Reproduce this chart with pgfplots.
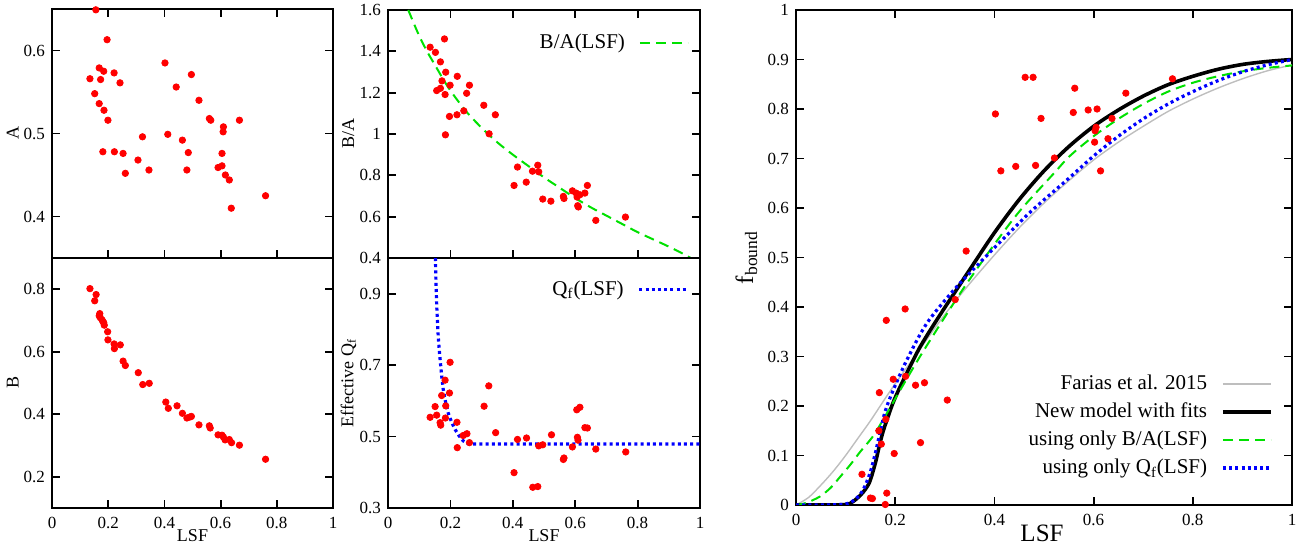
\documentclass[border=0pt]{standalone}
\usepackage{fontspec}
\setmainfont{Liberation Serif}
\usepackage{pgfplots}
\pgfplotsset{compat=1.18}

\definecolor{ptred}{RGB}{255,0,0}
\definecolor{fitgreen}{RGB}{0,225,0}
\definecolor{fitblue}{RGB}{0,0,255}
\definecolor{farias}{RGB}{190,190,190}

\pgfplotsset{
  myaxis/.style={
    scale only axis,
    anchor=south west,
    axis line style={line width=1.1pt},
    every tick/.style={line width=0.9pt, black},
    major tick length=4pt,
    tick align=inside,
    xmin=0, xmax=1,
    xtick={0,0.2,0.4,0.6,0.8,1},
    /pgf/number format/assume math mode=true,
    tick label style={font=\fontsize{8.5}{10}\selectfont},
    xticklabel style={yshift=-1pt},
    label style={font=\fontsize{9}{11}\selectfont},
    legend cell align=right,
    legend plot pos=right,
    legend style={draw=none, fill=none, font=\fontsize{10.5}{12}\selectfont,
      /tikz/every odd column/.append style={column sep=5pt}},
    legend image code/.code={\draw[##1] (0pt,0pt) -- (24pt,0pt);},
  },
  pts/.style={only marks, mark=*, mark size=1.6pt, color=ptred, forget plot},
  lsflabel/.style={xlabel={LSF}, xlabel style={at={(axis description cs:0.5,0)}, anchor=center, inner sep=0pt, yshift=-14pt}},
}

\begin{document}
\begin{tikzpicture}
\path[use as bounding box] (0,0) rectangle (652pt,272.5pt);

% ---------------- A panel ----------------
\begin{axis}[myaxis, at={(26pt,143.5pt)}, width=140.5pt, height=124.5pt,
  ymin=0.35, ymax=0.65, ytick={0.4,0.5,0.6}, xticklabels={},
  xtick pos=both, ytick pos=both,
  ylabel={A}, ylabel style={at={(axis description cs:-0.14,0.5)}, anchor=center}]
\addplot[pts] table[row sep=\\] {
x y\\
0.156 0.649\\ 0.196 0.613\\ 0.135 0.566\\ 0.168 0.579\\ 0.184 0.575\\
0.173 0.565\\ 0.221 0.573\\ 0.242 0.561\\ 0.152 0.548\\ 0.168 0.536\\
0.185 0.528\\ 0.199 0.516\\ 0.181 0.478\\ 0.222 0.478\\ 0.253 0.476\\
0.261 0.452\\ 0.306 0.468\\ 0.322 0.496\\ 0.345 0.456\\ 0.402 0.585\\
0.412 0.499\\ 0.442 0.556\\ 0.464 0.492\\ 0.496 0.571\\ 0.485 0.477\\
0.480 0.456\\ 0.523 0.540\\ 0.560 0.518\\ 0.565 0.516\\ 0.610 0.508\\
0.609 0.502\\ 0.667 0.516\\ 0.605 0.476\\ 0.591 0.459\\ 0.605 0.461\\
0.617 0.450\\ 0.631 0.444\\ 0.638 0.410\\ 0.760 0.425\\
};
\end{axis}

% ---------------- B panel ----------------
\begin{axis}[myaxis, at={(26pt,18.5pt)}, width=140.5pt, height=125pt,
  ymin=0.1, ymax=0.9, ytick={0.2,0.4,0.6,0.8},
  xtick pos=bottom, ytick pos=both, lsflabel,
  ylabel={B}, ylabel style={at={(axis description cs:-0.14,0.5)}, anchor=center}]
\addplot[pts] table[row sep=\\] {
x y\\
0.135 0.802\\ 0.157 0.783\\ 0.152 0.763\\ 0.170 0.722\\ 0.172 0.709\\
0.178 0.702\\ 0.184 0.693\\ 0.186 0.685\\ 0.168 0.715\\ 0.181 0.697\\
0.198 0.664\\ 0.199 0.638\\ 0.221 0.625\\ 0.243 0.622\\ 0.222 0.610\\
0.253 0.570\\ 0.261 0.556\\ 0.307 0.533\\ 0.323 0.495\\ 0.346 0.499\\
0.405 0.439\\ 0.414 0.419\\ 0.445 0.427\\ 0.464 0.403\\ 0.480 0.388\\
0.490 0.391\\ 0.496 0.393\\ 0.523 0.366\\ 0.560 0.363\\ 0.563 0.356\\
0.591 0.334\\ 0.605 0.333\\ 0.610 0.327\\ 0.616 0.318\\ 0.631 0.319\\
0.639 0.309\\ 0.667 0.301\\ 0.760 0.256\\
};
\end{axis}

% ---------------- B/A panel ----------------
\begin{axis}[myaxis, at={(194pt,143.5pt)}, width=156pt, height=124pt,
  ymin=0.4, ymax=1.6, ytick={0.4,0.6,0.8,1,1.2,1.4,1.6}, xticklabels={},
  xtick pos=both, ytick pos=both,
  ylabel={B/A}, ylabel style={at={(axis description cs:-0.127,0.5)}, anchor=center},
  legend style={at={(axis description cs:0.985,0.867)}, anchor=east}]
\addplot[pts] table[row sep=\\] {
x y\\
0.135 1.420\\ 0.152 1.395\\ 0.181 1.460\\ 0.168 1.349\\ 0.185 1.299\\
0.173 1.257\\ 0.156 1.210\\ 0.168 1.221\\ 0.183 1.191\\ 0.199 1.236\\
0.222 1.279\\ 0.261 1.236\\ 0.252 1.197\\ 0.197 1.085\\ 0.221 1.093\\
0.243 1.112\\ 0.184 0.996\\ 0.307 1.139\\ 0.344 1.093\\ 0.324 1.001\\
0.404 0.751\\ 0.415 0.840\\ 0.443 0.767\\ 0.463 0.820\\ 0.480 0.849\\
0.483 0.817\\ 0.496 0.685\\ 0.522 0.675\\ 0.562 0.698\\ 0.564 0.688\\
0.591 0.725\\ 0.603 0.714\\ 0.606 0.695\\ 0.615 0.706\\ 0.608 0.653\\
0.610 0.647\\ 0.631 0.714\\ 0.639 0.751\\ 0.666 0.582\\ 0.761 0.598\\
};
\addplot[fitgreen, line width=1pt, dash pattern=on 5pt off 3pt, smooth] table[row sep=\\] {
x y\\
0.065 1.600\\ 0.080 1.545\\ 0.100 1.475\\ 0.125 1.400\\ 0.150 1.335\\
0.175 1.270\\ 0.200 1.210\\ 0.250 1.110\\ 0.300 1.030\\ 0.350 0.960\\
0.400 0.900\\ 0.450 0.845\\ 0.500 0.790\\ 0.550 0.740\\ 0.600 0.690\\
0.650 0.645\\ 0.700 0.605\\ 0.750 0.565\\ 0.800 0.525\\ 0.850 0.490\\
0.900 0.455\\ 0.950 0.417\\ 0.970 0.400\\
};
\addlegendentry{B/A(LSF)}
\end{axis}

% ---------------- Qf panel ----------------
\begin{axis}[myaxis, at={(194pt,18.5pt)}, width=156pt, height=125pt,
  ymin=0.3, ymax=1.0, ytick={0.3,0.5,0.7,0.9},
  xtick pos=bottom, ytick pos=both, lsflabel,
  ylabel={Effective Q\textsubscript{f}}, ylabel style={at={(axis description cs:-0.127,0.5)}, anchor=center},
  legend style={at={(axis description cs:0.985,0.873)}, anchor=east}]
\addplot[pts] table[row sep=\\] {
x y\\
0.199 0.708\\ 0.183 0.658\\ 0.197 0.622\\ 0.172 0.615\\ 0.185 0.586\\
0.151 0.584\\ 0.135 0.554\\ 0.156 0.560\\ 0.167 0.539\\ 0.169 0.532\\
0.184 0.552\\ 0.221 0.540\\ 0.323 0.642\\ 0.308 0.585\\ 0.345 0.511\\
0.241 0.503\\ 0.253 0.508\\ 0.261 0.483\\ 0.222 0.469\\ 0.404 0.399\\
0.415 0.492\\ 0.444 0.496\\ 0.464 0.358\\ 0.480 0.360\\ 0.483 0.474\\
0.496 0.477\\ 0.524 0.505\\ 0.562 0.436\\ 0.564 0.440\\ 0.591 0.471\\
0.605 0.575\\ 0.615 0.582\\ 0.607 0.498\\ 0.609 0.490\\ 0.631 0.525\\
0.639 0.524\\ 0.666 0.465\\ 0.762 0.457\\
};
\addplot[fitblue, line width=1.6pt, dash pattern=on 1.5pt off 1.6pt] table[row sep=\\] {
x y\\
0.152 1.000\\ 0.154 0.920\\ 0.156 0.870\\ 0.158 0.830\\ 0.161 0.780\\
0.164 0.745\\ 0.167 0.716\\ 0.172 0.670\\ 0.177 0.632\\ 0.185 0.595\\
0.193 0.566\\ 0.204 0.540\\ 0.215 0.520\\ 0.228 0.502\\ 0.241 0.488\\
0.257 0.480\\ 0.280 0.479\\ 1.000 0.479\\
};
\addlegendentry{Q\textsubscript{f}(LSF)}
\end{axis}

% ---------------- f_bound panel ----------------
\begin{axis}[myaxis, at={(398pt,20pt)}, width=248pt, height=247.5pt,
  ymin=0, ymax=1, ytick={0,0.1,0.2,0.3,0.4,0.5,0.6,0.7,0.8,0.9,1},
  xtick pos=both, ytick pos=both,
  xlabel={LSF}, xlabel style={font=\fontsize{12.5}{14}\selectfont, at={(axis description cs:0.496,0)}, anchor=center, inner sep=0pt, yshift=-14pt},
  ylabel={f\textsubscript{bound}}, ylabel style={font=\fontsize{12.5}{14}\selectfont, at={(axis description cs:-0.1,0.5)}, anchor=center},
  legend style={at={(axis description cs:0.974,0.04)}, anchor=south east, row sep=1.2pt}]
\addplot[pts] table[row sep=\\] {
x y\\
0.462 0.864\\ 0.478 0.864\\ 0.402 0.790\\ 0.494 0.781\\ 0.413 0.675\\
0.443 0.684\\ 0.483 0.686\\ 0.521 0.701\\ 0.562 0.842\\ 0.559 0.793\\
0.589 0.798\\ 0.607 0.800\\ 0.637 0.781\\ 0.665 0.832\\ 0.759 0.861\\
0.605 0.763\\ 0.603 0.756\\ 0.602 0.733\\ 0.629 0.740\\ 0.614 0.675\\
0.343 0.513\\ 0.321 0.415\\ 0.220 0.396\\ 0.182 0.373\\ 0.196 0.254\\
0.221 0.260\\ 0.241 0.242\\ 0.259 0.247\\ 0.168 0.227\\ 0.305 0.212\\
0.181 0.173\\ 0.167 0.150\\ 0.172 0.123\\ 0.251 0.126\\ 0.198 0.104\\
0.133 0.062\\ 0.150 0.014\\ 0.154 0.013\\ 0.183 0.024\\ 0.180 0.001\\
};
\addplot[farias, line width=0.7pt, smooth] table[row sep=\\] {
x y\\
0 0\\ 0.025 0.015\\ 0.05 0.04\\ 0.075 0.068\\ 0.1 0.10\\ 0.125 0.135\\
0.15 0.17\\ 0.175 0.208\\ 0.2 0.245\\ 0.25 0.315\\ 0.3 0.385\\ 0.35 0.447\\
0.4 0.505\\ 0.45 0.56\\ 0.5 0.61\\ 0.55 0.655\\ 0.6 0.697\\ 0.65 0.733\\
0.7 0.765\\ 0.75 0.795\\ 0.8 0.82\\ 0.85 0.842\\ 0.9 0.861\\ 0.95 0.877\\ 1.0 0.889\\
};
\addlegendentry{Farias et al. 2015}
\addplot[black, line width=1.8pt, smooth] table[row sep=\\] {
x y\\
0 0\\ 0.05 0\\ 0.1 0.001\\ 0.115 0.007\\ 0.13 0.02\\ 0.14 0.032\\ 0.149 0.048\\
0.16 0.085\\ 0.169 0.124\\ 0.176 0.15\\ 0.183 0.171\\ 0.195 0.205\\ 0.21 0.239\\
0.23 0.28\\ 0.25 0.319\\ 0.275 0.36\\ 0.304 0.405\\ 0.35 0.475\\ 0.4 0.55\\
0.45 0.617\\ 0.5 0.675\\ 0.55 0.724\\ 0.6 0.765\\ 0.65 0.798\\ 0.7 0.826\\
0.75 0.849\\ 0.8 0.866\\ 0.85 0.880\\ 0.9 0.890\\ 0.95 0.896\\ 1.0 0.90\\
};
\addlegendentry{New model with fits}
\addplot[fitgreen, line width=1pt, dash pattern=on 5pt off 3pt, smooth] table[row sep=\\] {
x y\\
0 0\\ 0.02 0.004\\ 0.048 0.017\\ 0.07 0.035\\ 0.089 0.057\\ 0.11 0.082\\
0.129 0.107\\ 0.156 0.14\\ 0.183 0.185\\ 0.21 0.232\\ 0.25 0.30\\ 0.304 0.386\\
0.344 0.447\\ 0.398 0.524\\ 0.452 0.595\\ 0.519 0.669\\ 0.552 0.705\\ 0.6 0.745\\
0.65 0.78\\ 0.7 0.81\\ 0.75 0.835\\ 0.8 0.853\\ 0.85 0.866\\ 0.9 0.876\\
0.95 0.883\\ 1.0 0.888\\
};
\addlegendentry{using only B/A(LSF)}
\addplot[fitblue, line width=1.6pt, dash pattern=on 1.5pt off 1.6pt, smooth] table[row sep=\\] {
x y\\
0 0\\ 0.05 0\\ 0.1 0.002\\ 0.12 0.012\\ 0.135 0.03\\ 0.149 0.064\\ 0.16 0.105\\
0.169 0.145\\ 0.18 0.19\\ 0.196 0.232\\ 0.223 0.292\\ 0.263 0.366\\ 0.317 0.433\\
0.371 0.49\\ 0.425 0.545\\ 0.478 0.597\\ 0.55 0.66\\ 0.6 0.705\\ 0.65 0.745\\
0.7 0.78\\ 0.75 0.81\\ 0.8 0.835\\ 0.85 0.857\\ 0.9 0.875\\ 0.95 0.889\\ 1.0 0.90\\
};
\addlegendentry{using only Q\textsubscript{f}(LSF)}
\end{axis}
\end{tikzpicture}
\end{document}
